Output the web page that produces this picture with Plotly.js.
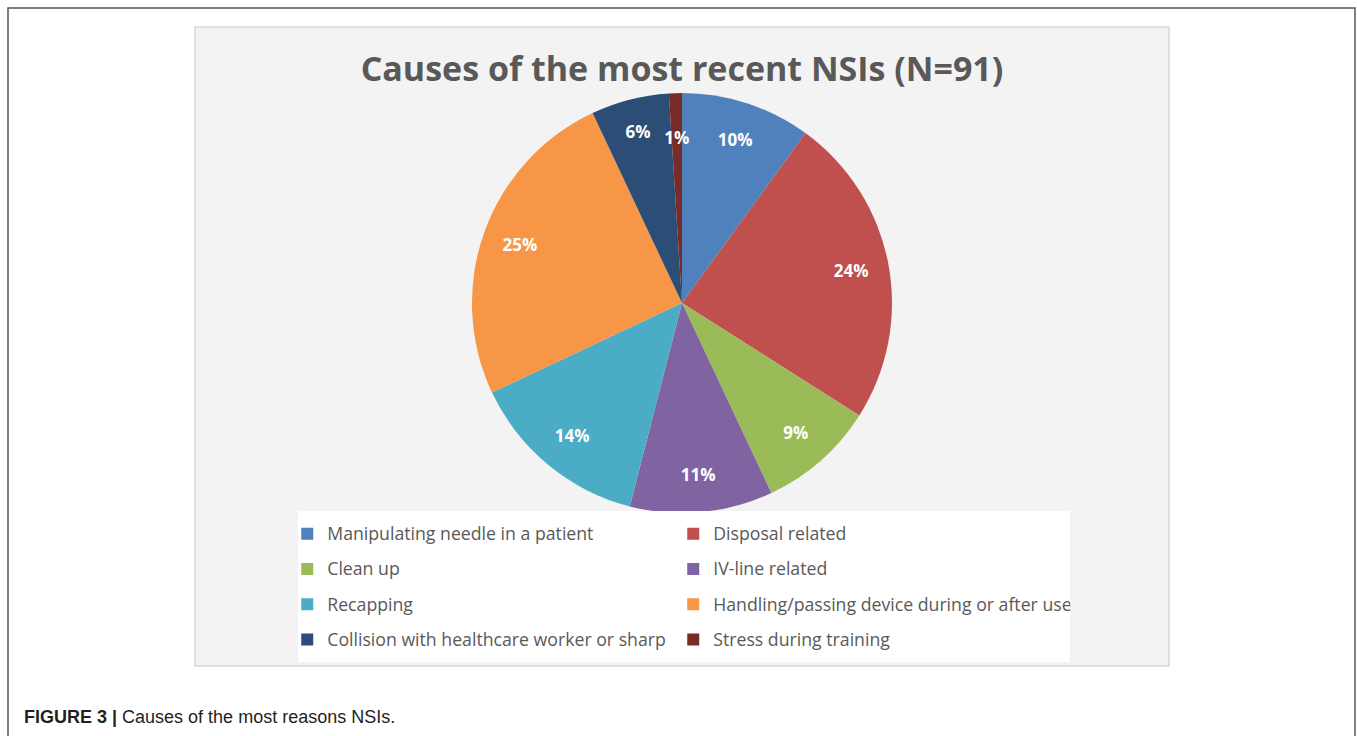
<!DOCTYPE html>
<html>
<head>
<meta charset="utf-8">
<script src="https://cdn.plot.ly/plotly-3.0.1.min.js"></script>
<style>html,body{margin:0;padding:0;background:#fff;}#chart{width:1357px;height:736px;}</style>
</head>
<body>
<div id="chart"></div>
<script>
const categories = [
  "Manipulating needle in a patient",
  "Disposal related",
  "Clean up",
  "IV-line related",
  "Recapping",
  "Handling/passing device during or after use",
  "Collision with healthcare worker or sharp",
  "Stress during training"
];
const percentValues = [10, 24, 9, 11, 14, 25, 6, 1];
const sliceColors = ["#4F81BD", "#C0504D", "#9BBB59", "#8064A2", "#4BACC6", "#F79646", "#2C4D75", "#772C2A"];
const chartTitle = "Causes of the most recent NSIs (N=91)";
const captionText = "<b>FIGURE 3 |</b> Causes of the most reasons NSIs.";

// legend labels padded with blank lines so rows get the reference spacing
const legendLabels = categories.map(c => '<br><br><span style="font-size:17.7px">' + c + '</span><br>&nbsp;');

const domain = {x: [0, 1], y: [0.2394, 0.8967]};
const innerDomain = {x: [0, 1], y: [0.3005, 0.8357]};
const smallCut = 2; // slices below this percent get their label from the inner label ring

const pieTrace = {
  type: "pie",
  labels: legendLabels,
  values: percentValues,
  sort: false,
  direction: "clockwise",
  rotation: 0,
  marker: {colors: sliceColors, line: {width: 0}},
  textinfo: "none",
  domain: domain,
  hoverinfo: "none"
};

const labelFont = {family: "Open Sans", size: 17, color: "#ffffff", weight: "bold"};

const labelTrace = {
  type: "pie",
  labels: legendLabels,
  values: percentValues,
  sort: false,
  direction: "clockwise",
  rotation: 0,
  hole: 0.64,
  marker: {colors: sliceColors.map(() => "rgba(0,0,0,0)"), line: {width: 0}},
  texttemplate: percentValues.map(v => v < smallCut ? "" : "%{value}%"),
  textposition: "inside",
  insidetextorientation: "horizontal",
  textfont: labelFont,
  domain: domain,
  showlegend: false,
  hoverinfo: "none"
};

const smallLabelTrace = {
  type: "pie",
  labels: legendLabels,
  values: percentValues,
  sort: false,
  direction: "clockwise",
  rotation: 0,
  marker: {colors: sliceColors.map(() => "rgba(0,0,0,0)"), line: {width: 0}},
  texttemplate: percentValues.map(v => v < smallCut ? "%{value}%" : ""),
  textposition: "inside",
  insidetextorientation: "horizontal",
  textfont: labelFont,
  domain: innerDomain,
  showlegend: false,
  hoverinfo: "none"
};

const layout = {
  width: 1357, height: 736,
  margin: {l: 195, r: 188, t: 27, b: 70},
  paper_bgcolor: "#ffffff",
  plot_bgcolor: "rgba(0,0,0,0)",
  showlegend: true,
  uniformtext: {mode: "show", minsize: 17},
  title: {
    text: "<b>" + chartTitle + "</b>",
    font: {family: "Open Sans", size: 34, color: "#595959"},
    x: 0.5, xref: "paper", xanchor: "center",
    y: 1 - 69 / 736, yref: "container", yanchor: "middle"
  },
  legend: {
    orientation: "h",
    x: 0.106, xanchor: "left",
    y: 0.2424, yanchor: "top",
    bgcolor: "#ffffff",
    indentation: -11,
    entrywidth: 352, entrywidthmode: "pixels",
    font: {family: "Open Sans", size: 6.2, color: "#595959"},
    traceorder: "normal"
  },
  shapes: [
    {type: "rect", xref: "paper", yref: "paper", x0: 0, x1: 1, y0: 0, y1: 1,
     fillcolor: "#f3f3f3", line: {color: "#d9d9d9", width: 1.5}, layer: "below"},
    {type: "rect", xref: "paper", yref: "paper",
     x0: (8 - 195) / 974, x1: (1355 - 195) / 974, y0: (666 - 760) / 639, y1: (666 - 8) / 639,
     fillcolor: "rgba(0,0,0,0)", line: {color: "#555555", width: 1.5}, layer: "below"}
  ],
  annotations: [
    {text: captionText, xref: "paper", yref: "paper", x: (22 - 195) / 974, xanchor: "left",
     y: (666 - 717) / 639, yanchor: "middle", showarrow: false,
     font: {family: "Liberation Sans", size: 18, color: "#231f20"}}
  ]
};

Plotly.newPlot("chart", [pieTrace, labelTrace, smallLabelTrace], layout, {displayModeBar: false, staticPlot: true});
</script>
</body>
</html>
